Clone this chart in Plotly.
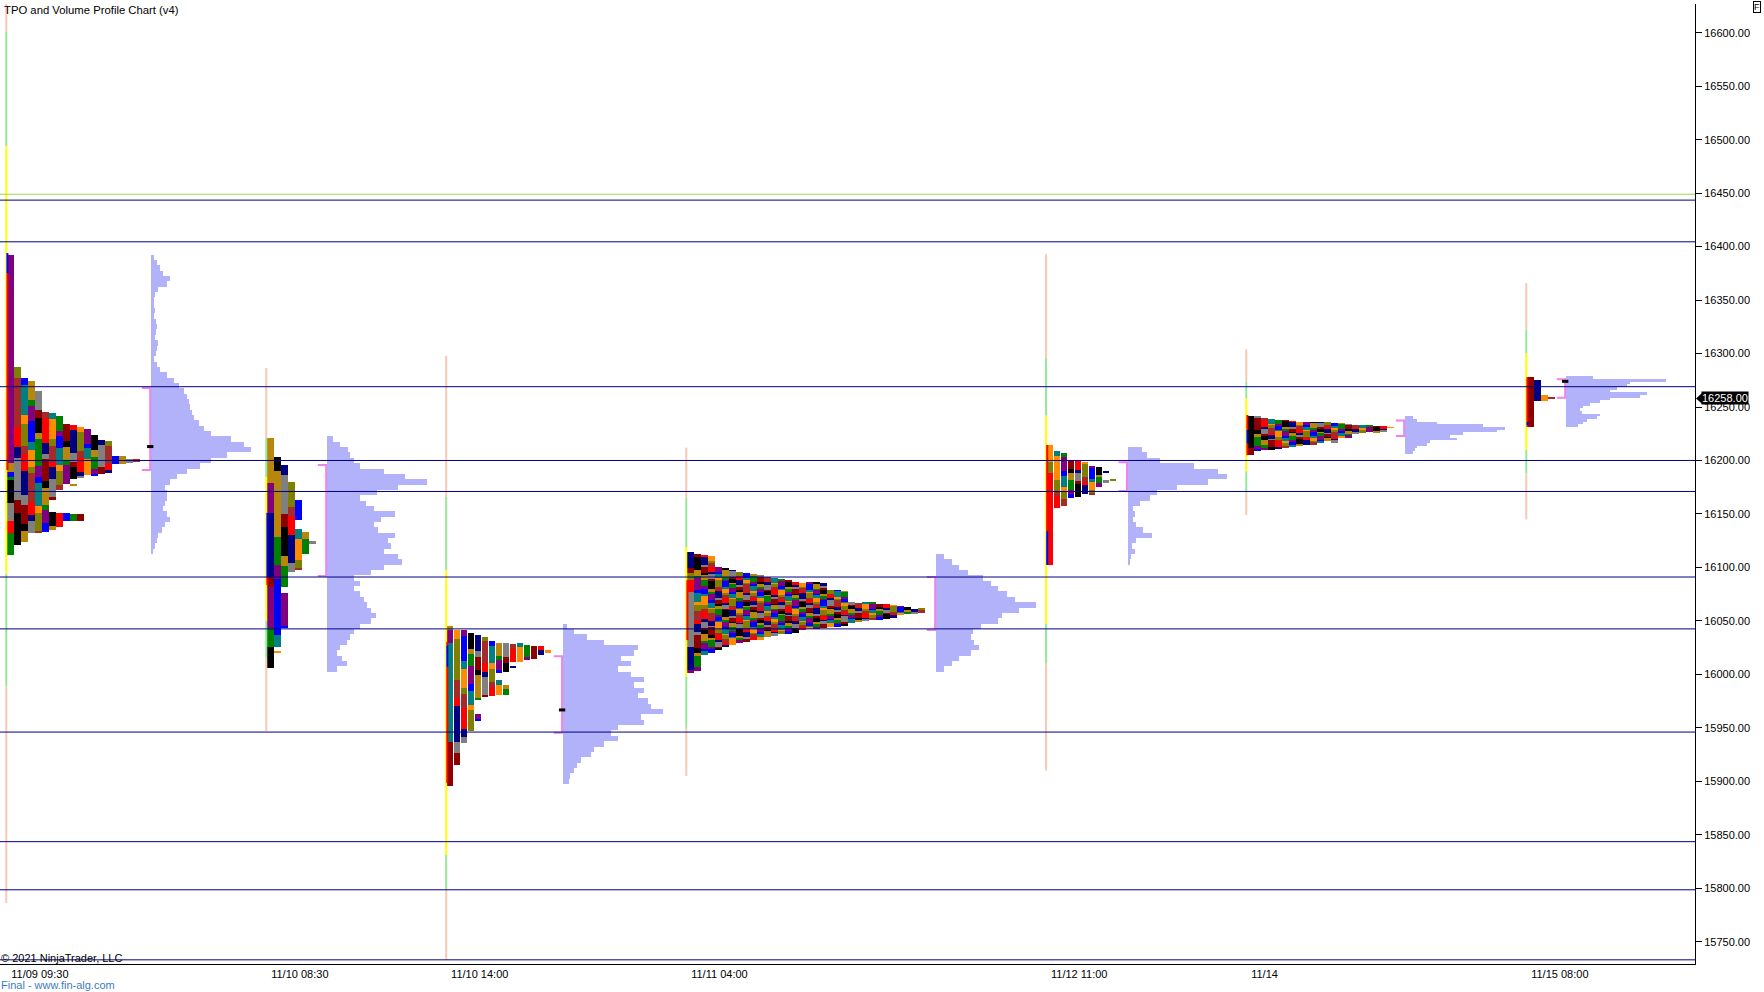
import plotly.graph_objects as go

# ---------------- data ----------------
title_text = "TPO and Volume Profile Chart (v4)"
x_labels = ["11/09 09:30", "11/10 08:30", "11/10 14:00", "11/11 04:00",
            "11/12 11:00", "11/14", "11/15 08:00"]
# time-slot index (one slot = one TPO period column) where each session starts
session_x = [0.96, 38.1, 63.8, 98.1, 149.5, 178.1, 218.1]
price_ticks = [15750, 15800, 15850, 15900, 15950, 16000, 16050, 16100, 16150,
               16200, 16250, 16300, 16350, 16400, 16450, 16500, 16550, 16600]
last_price = 16258.00

level_lines = [16443.5, 16404.5, 16269.0, 16200.0, 16171.0, 16091.0,
               16042.5, 15946.0, 15843.5, 15798.5, 15733.0]
green_levels = [16449.0]

# session range line zones (hi, lo, zone)  S=3x ext, G=2x ext, Y=1x ext
range_zones = [
    [(16630, 16600.7, 'S'), (16600.7, 16494, 'G'), (16494, 16094, 'Y'), (16094, 15989, 'G'), (15989, 15786, 'S')],
    [(16286.5, 16221, 'S'), (16221, 16184.4, 'G'), (16184.4, 16050, 'Y'), (16050, 16015.6, 'G'), (16015.6, 15947, 'S')],
    [(16298, 16166, 'S'), (16166, 16097.5, 'G'), (16097.5, 15831, 'Y'), (15831, 15799, 'G'), (15799, 15733, 'S')],
    [(16212, 16165, 'S'), (16165, 16119, 'G'), (16119, 15998, 'Y'), (15998, 15950, 'G'), (15950, 15905, 'S')],
    [(16393, 16296, 'S'), (16296, 16242, 'G'), (16242, 16047, 'Y'), (16047, 16010, 'G'), (16010, 15910, 'S')],
    [(16304, 16273.6, 'S'), (16273.6, 16258, 'G'), (16258, 16190, 'Y'), (16190, 16170, 'G'), (16170, 16149, 'S')],
    [(16366, 16322, 'S'), (16322, 16300, 'G'), (16300, 16210, 'Y'), (16210, 16188, 'G'), (16188, 16145, 'S')],
]
# initial balance segments (hi, lo, colour key)
ib_segments = [
    [(16394, 16375, 'B'), (16375, 16191, 'R')],
    [(16151, 16091, 'B'), (16091, 16083.6, 'R')],
    [(16030.5, 16027, 'R'), (16027, 16007, 'B'), (16007, 15898.4, 'R')],
    [(16088, 16032, 'R')],
    [(16214.5, 16134, 'R'), (16134, 16102.3, 'B')],
    [(16242.5, 16228.5, 'R'), (16228.5, 16216, 'B'), (16216, 16205, 'R')],
    [(16277.7, 16236, 'R'), (16236, 16233, 'B'), (16233, 16231.6, 'R')],
]

# explicit TPO segments: (column, period colour, hi, lo)
tpo_first = [
    [(0, 'purple', 16392, 16197.3), (0, '#B8860B', 16197.3, 16189.5), (0, 'blue', 16189.5, 16185),
     (0, 'green', 16185, 16182), (0, 'black', 16182, 16160), (0, 'gray', 16160, 16143),
     (0, 'red', 16143, 16132), (0, 'green', 16132, 16111.6)],
    [(0, '#B8860B', 16221.3, 16178.6), (0, 'purple', 16178.6, 16150.6), (0, 'navy', 16150.6, 16091.3),
     (0, 'darkred', 16091.3, 16082), (0, 'purple', 16082, 16043), (0, 'green', 16043, 16026),
     (0, 'black', 16026, 16005.6)],
    [(0, '#B8860B', 16045.2, 16041.5), (0, 'purple', 16041.5, 16029), (0, 'teal', 16029, 15937),
     (0, 'darkred', 15937, 15896)],
    [(0, 'navy', 16114.7, 16099.1), (0, 'darkred', 16099.1, 16094.5), (0, 'olive', 16094.5, 16088.3),
     (0, 'red', 16088.3, 16077.4), (0, 'gray', 16077.4, 16025.9), (0, 'navy', 16025.9, 16004.1),
     (0, 'purple', 16004.1, 16001)],
    [(0, '#FF8C00', 16214.5, 16198.9), (0, 'olive', 16198.9, 16188), (0, 'red', 16188, 16102.3)],
    [(0, 'black', 16241.6, 16211.4), (0, 'darkred', 16211.4, 16205.1)],
    [(0, 'darkred', 16277.7, 16231.6), (1, 'navy', 16275.3, 16256), (2, '#FF8C00', 16261, 16256),
     (3, 'brown', 16258.6, 16257.6)],
]
# remaining TPO columns: price ranges (hi, lo) of each column
tpo_cols = [
    [[(16287, 16121)], [(16277, 16124)], [(16274, 16132)], [(16265, 16133)], [(16245, 16133)],
     [(16244, 16163), (16152, 16135)], [(16242, 16172), (16151, 16138)],
     [(16234, 16178), (16151, 16143)], [(16233, 16183), (16178, 16176), (16150, 16143)],
     [(16231, 16184), (16150, 16143)], [(16229, 16186)], [(16224, 16186)], [(16219, 16187)],
     [(16218, 16188)], [(16204, 16197)], [(16204, 16197)], [(16201, 16198)], [(16201, 16199)]],
    [[(16203, 16026), (16022, 16020)], [(16196, 16082), (16076, 16043)], [(16180, 16096)],
     [(16163, 16144), (16136, 16098)], [(16133, 16113)], [(16125, 16122)]],
    [[(16041.5, 15915)], [(16041.5, 15936)], [(16039, 15947)], [(16037, 15976), (15963, 15957)],
     [(16035, 15979)], [(16031, 15980)], [(16029, 16002), (15995, 15981)],
     [(16029, 16002), (15990, 15981)], [(16028, 16012), (16008, 16006)], [(16029, 16012)],
     [(16027, 16013)], [(16026.5, 16014)], [(16026.5, 16018)], [(16023, 16020)]],
    [[(16112.5, 16003)], [(16111.6, 16018)], [(16110.7, 16020)], [(16100.7, 16023)], [(16099, 16026)],
     [(16097.6, 16027.4)], [(16096, 16029)], [(16094.5, 16030.6)], [(16093.5, 16032)],
     [(16092.3, 16033)], [(16090.7, 16034.6)], [(16089.8, 16036)], [(16088.9, 16037.4)],
     [(16087.6, 16038)], [(16086.7, 16039)], [(16085.7, 16041)], [(16085.7, 16042)],
     [(16085.7, 16042.4)], [(16085.7, 16043)], [(16079, 16044)], [(16079, 16045)], [(16078, 16046)],
     [(16068, 16048)], [(16067, 16049)], [(16067, 16050)], [(16067, 16050.5)], [(16066, 16051)],
     [(16065.5, 16052)], [(16065, 16053)], [(16064, 16055.5)], [(16063, 16057)], [(16061.4, 16057)],
     [(16061.4, 16057)]],
    [[(16209, 16156)], [(16207, 16157)], [(16200.4, 16165)], [(16200.4, 16166)], [(16199, 16168.6)],
     [(16195, 16167.7)], [(16193.6, 16175.5)], [(16189.5, 16188.6), (16181.7, 16179.2)],
     [(16182, 16181)]],
    [[(16241.6, 16209)], [(16239.4, 16209.8)], [(16238.5, 16210.7)], [(16237.8, 16211.4)],
     [(16237.8, 16212.3)], [(16237, 16213.5)], [(16236.3, 16213.8)], [(16236.3, 16214.5)],
     [(16236, 16215.4)], [(16236, 16216)], [(16235.7, 16219)], [(16235.3, 16216.6)],
     [(16234.7, 16221.3)], [(16234.1, 16221.3)], [(16233.2, 16225.4)], [(16233.2, 16226)],
     [(16232.5, 16227)], [(16232.2, 16226)], [(16232.2, 16227)], [(16231.3, 16230.7)]],
    [],
]

# value area (hi, lo) and point of control per session
value_area = [(16267.8, 16191), (16195.8, 16092), (16017, 15945.4), (16091, 16041.5),
              (16198.3, 16171.5), (16237.5, 16222.9), (16276, 16258.7)]
poc_price = [16213, None, 15966.7, None, None, None, 16274]

# volume profiles: top price bucket, bucket size, relative volume (% of session max)
vp_top = [16390, 16220, 16045, 16110, 16210, 16240, 16277.5]
vp_step = [5, 5, 5, 5, 5, 2.5, 2.5]
vp_vol = [
    [3, 6, 9, 12, 19, 16, 7, 4, 3, 3, 4, 3, 5, 6, 5, 4, 7, 6, 5, 3, 6, 9, 16, 23, 28, 33, 36, 38,
     39, 41, 43, 48, 53, 60, 80, 93, 100, 76, 60, 49, 36, 26, 19, 14, 16, 16, 14, 12, 16, 19, 14,
     11, 7, 6, 4, 2],
    [6, 13, 21, 23, 27, 33, 57, 78, 100, 71, 50, 33, 39, 47, 68, 54, 47, 51, 68, 61, 64, 57, 71,
     75, 57, 44, 27, 33, 27, 33, 37, 40, 44, 49, 44, 33, 27, 23, 20, 13, 10, 15, 20, 10],
    [4, 11, 24, 41, 75, 71, 58, 68, 55, 68, 81, 71, 81, 75, 85, 88, 100, 78, 81, 55, 48, 55, 41,
     31, 28, 18, 14, 11, 7, 6],
    [8, 16, 23, 32, 47, 55, 62, 71, 79, 100, 83, 66, 62, 45, 37, 35, 38, 43, 35, 23, 16, 8],
    [14, 19, 32, 66, 90, 100, 80, 49, 29, 22, 12, 5, 7, 5, 8, 15, 24, 8, 4, 7, 3, 2],
    [8, 12, 32, 78, 100, 92, 58, 45, 52, 25, 22, 12, 10, 8],
    [27, 100, 64, 61, 51, 44, 81, 74, 44, 34, 24, 17, 14, 16, 34, 31, 21, 17, 12],
]

# ---------------- styling ----------------
FONT = "Liberation Sans, Arial, sans-serif"
palette = ['navy', 'darkred', '#B8860B', 'purple', 'teal', 'olive', 'red', 'gray', 'black',
           'green', 'blue', '#FF8C00', 'brown']
seg_len = [5, 2, 4, 1.5, 7, 3, 1.5, 6, 2, 4.5, 1.5, 3.5]
cell_scale = [2.6, 3.5, 2.2, 0.7, 1.3, 0.6, 1.0]
zone_color = {'S': 'rgb(250,200,178)', 'G': 'rgb(150,232,150)', 'Y': 'rgb(255,255,0)',
              'R': 'rgb(255,0,0)', 'B': 'rgb(0,0,255)'}
COL_OFF, COL_W = 0.1, 0.88
VP_WIDTH = 14.2
X_MAX = 1695 / 7.0
Y_RANGE = [15729.1, 16626.9]

fig = go.Figure()

# ---- TPO cells ----
bx, bb, by, bw, bc = [], [], [], [], []


def add_cell(left, hi, lo, color):
    bb.append(left)
    bx.append(COL_W)
    by.append((hi + lo) / 2.0)
    bw.append(hi - lo)
    bc.append(color)


ncols_list = []
for s in range(len(session_x)):
    sx = session_x[s]
    ncols = 0
    for (k, col, hi, lo) in tpo_first[s]:
        add_cell(sx + COL_OFF + k, hi, lo, col)
        ncols = max(ncols, k + 1)
    start = ncols
    for i, ranges in enumerate(tpo_cols[s]):
        k = start + i
        f = cell_scale[s] * (1 + 1.5 / k)
        j = 0
        for (hi, lo) in ranges:
            p = hi
            while p > lo + 1e-9:
                L = seg_len[(j + 3 * k) % len(seg_len)] * f
                q = max(lo, p - L)
                if q - lo < 0.6:
                    q = lo
                add_cell(sx + COL_OFF + k, p, q, palette[(k * 5 + j * 7 + s * 3) % 13])
                p = q
                j += 1
        ncols = k + 1
    ncols_list.append(ncols)

# ---- volume profiles ----
vx, vb, vy, vw = [], [], [], []
for s in range(len(session_x)):
    base = session_x[s] + ncols_list[s] + 1.5 + 0.15
    for i, v in enumerate(vp_vol[s]):
        vy.append(vp_top[s] - i * vp_step[s])
        vw.append(vp_step[s])
        vb.append(base)
        vx.append(v / 100.0 * VP_WIDTH)

fig.add_trace(go.Bar(orientation='h', y=vy, x=vx, base=vb, width=vw,
                     marker=dict(color='rgb(178,178,250)', line=dict(width=0)),
                     hoverinfo='skip', showlegend=False))
fig.add_trace(go.Bar(orientation='h', y=by, x=bx, base=bb, width=bw,
                     marker=dict(color=bc, line=dict(width=0)),
                     hoverinfo='skip', showlegend=False))

# ---- session range lines + IB ----
for key in ['S', 'G', 'Y']:
    xs, ys = [], []
    for s in range(len(session_x)):
        for (hi, lo, z) in range_zones[s]:
            if z == key:
                xs += [session_x[s] - 0.06, session_x[s] - 0.06, None]
                ys += [hi, lo, None]
    fig.add_trace(go.Scatter(x=xs, y=ys, mode='lines', line=dict(color=zone_color[key], width=2),
                             hoverinfo='skip', showlegend=False))
for key in ['R', 'B']:
    xs, ys = [], []
    for s in range(len(session_x)):
        for (hi, lo, z) in ib_segments[s]:
            if z == key:
                xs += [session_x[s] + 0.1, session_x[s] + 0.1, None]
                ys += [hi, lo, None]
    fig.add_trace(go.Scatter(x=xs, y=ys, mode='lines', line=dict(color=zone_color[key], width=2),
                             hoverinfo='skip', showlegend=False))

# ---- value area brackets ----
xs, ys = [], []
for s in range(len(session_x)):
    vxp = session_x[s] + ncols_list[s] + 1.5
    hi, lo = value_area[s]
    xs += [vxp - 1.2, vxp, vxp, vxp - 1.2, None]
    ys += [hi, hi, lo, lo, None]
fig.add_trace(go.Scatter(x=xs, y=ys, mode='lines', line=dict(color='violet', width=2),
                         hoverinfo='skip', showlegend=False))

# ---- POC marks (drawn above the brackets) ----
xs, ys = [], []
for s in range(len(session_x)):
    if poc_price[s] is not None:
        vxp = session_x[s] + ncols_list[s] + 1.5
        xs += [vxp - 0.45, vxp + 0.45, None]
        ys += [poc_price[s], poc_price[s], None]
fig.add_trace(go.Scatter(x=xs, y=ys, mode='lines', line=dict(color='black', width=3),
                         hoverinfo='skip', showlegend=False))

# ---- horizontal level lines ----
shapes = []
for lv in level_lines:
    shapes.append(dict(type='line', xref='paper', x0=0, x1=1, yref='y', y0=lv, y1=lv,
                       line=dict(color='#000080', width=1), layer='above'))
for lv in green_levels:
    shapes.append(dict(type='line', xref='paper', x0=0, x1=1, yref='y', y0=lv, y1=lv,
                       line=dict(color='rgb(154,214,80)', width=1), layer='above'))
# last price arrow
shapes.append(dict(type='path', xref='paper', yref='y',
                   path=f"M 1.0006,{last_price} L {1 + 7 / 1695},{last_price + 5} L {1 + 7 / 1695},{last_price - 5} Z",
                   fillcolor='black', line=dict(width=0), layer='above'))

annotations = [
    dict(text=title_text, xref='paper', x=0, xanchor='left', xshift=2, yref='paper', y=1,
         yanchor='top', yshift=2, showarrow=False, font=dict(family=FONT, size=11.3, color='#000')),
    dict(text="© 2021 NinjaTrader, LLC", xref='paper', x=0, xanchor='left', xshift=-1,
         yref='paper', y=0, yanchor='bottom', yshift=-2, showarrow=False,
         font=dict(family=FONT, size=11, color='#000')),
    dict(text="Final - www.fin-alg.com", xref='paper', x=0, xanchor='left', xshift=-1,
         yref='paper', y=0, yanchor='top', yshift=-13, showarrow=False,
         font=dict(family=FONT, size=11, color='#3C7CC0')),
    dict(text=f"{last_price:.2f}", xref='paper', x=1, xanchor='left', xshift=6,
         yref='y', y=last_price, yanchor='middle', showarrow=False, bgcolor='black',
         borderpad=0, font=dict(family=FONT, size=11, color='white')),
    dict(text="F", xref='paper', x=1, xanchor='center', xshift=62, yref='paper', y=1,
         yanchor='middle', yshift=-3, showarrow=False, bordercolor='black', borderwidth=1,
         borderpad=0, bgcolor='white', font=dict(family=FONT, size=9, color='#000')),
]

fig.update_layout(
    width=1764, height=992,
    margin=dict(l=0, r=69, t=4, b=28),
    paper_bgcolor='white', plot_bgcolor='white',
    barmode='overlay', bargap=0, showlegend=False,
    shapes=shapes, annotations=annotations,
    xaxis=dict(range=[0, X_MAX], showgrid=False, zeroline=False, showline=True,
               linecolor='black', linewidth=1, ticks='', tickvals=session_x, ticktext=x_labels,
               ticklabelposition='outside right', ticklabelshift=4,
               tickfont=dict(family=FONT, size=11, color='#000')),
    yaxis=dict(range=Y_RANGE, side='right', showgrid=False, zeroline=False, showline=True,
               linecolor='black', linewidth=1, ticks='outside', ticklen=6, tickcolor='black',
               tickvals=price_ticks, ticktext=[f"{t:.2f}" for t in price_ticks],
               tickfont=dict(family=FONT, size=11, color='#000')),
)

fig.write_html("out.html", config={'displayModeBar': False},
               post_script="document.body.style.margin='0';document.body.style.overflow='hidden';")
